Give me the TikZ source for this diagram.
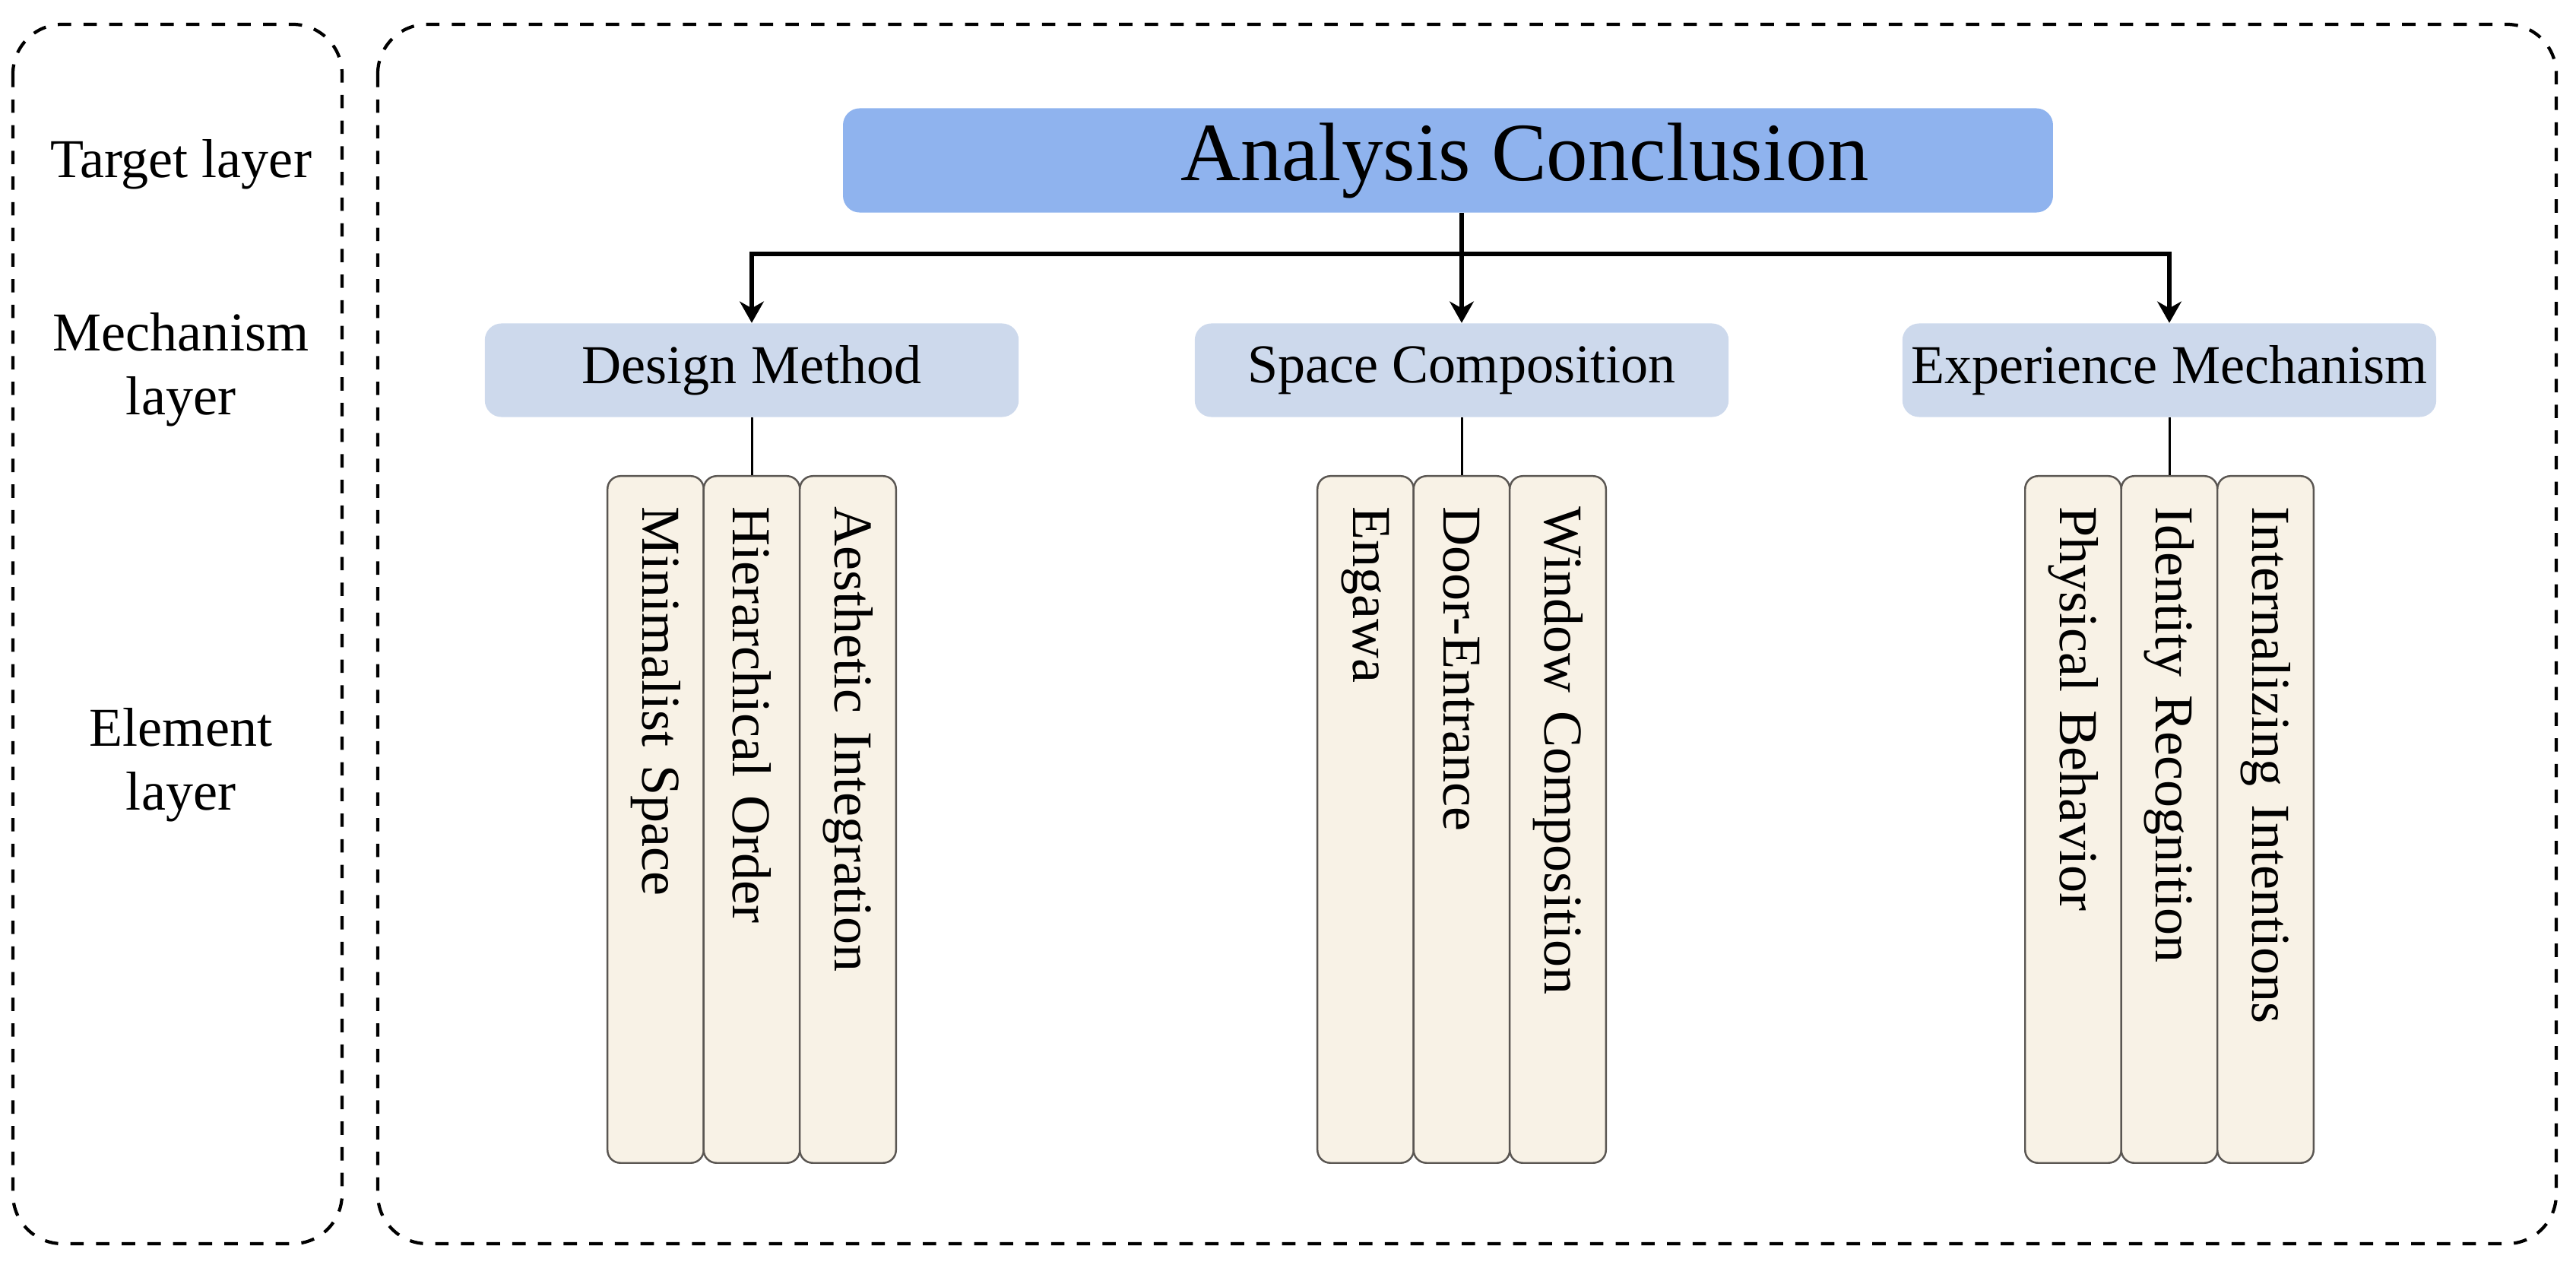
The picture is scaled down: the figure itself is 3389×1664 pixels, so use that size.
\documentclass[tikz,border=0pt]{standalone}
\usepackage{fontspec}
\setmainfont{Liberation Serif}
\usetikzlibrary{arrows.meta}
\definecolor{goalblue}{RGB}{143,179,238}
\definecolor{mechblue}{RGB}{205,217,236}
\definecolor{elemfill}{RGB}{248,242,230}
\definecolor{elemline}{RGB}{90,86,82}

\begin{document}
\begin{tikzpicture}[x=0.01cm, y=-0.01cm, every node/.style={font=\fontsize{20.5}{24}\selectfont},
	frame/.style={draw, line width=1.2pt, dash pattern=on 5pt off 4.6pt, rounded corners=0.65cm},
	goal/.style={fill=goalblue, rounded corners=0.22cm, minimum width=15.91cm, minimum height=1.37cm, font=\fontsize{31}{36}\selectfont},
	mech/.style={fill=mechblue, rounded corners=0.22cm, inner xsep=2pt, minimum width=7.02cm, minimum height=1.23cm},
	elem/.style={draw=elemline, fill=elemfill, line width=0.7pt, rounded corners=0.17cm, rotate=-90, anchor=west, inner xsep=0.4cm, inner ysep=0pt, text width=8.23cm, align=left, minimum height=1.265cm},
	link/.style={line width=1.7pt, -{Stealth[length=8pt, width=9pt, inset=2.5pt]}},
	stem/.style={line width=0.85pt}]
	\useasboundingbox (0,0) rectangle (3389,1664);
	\draw[frame] (17,32) rectangle (450,1636);
	\draw[frame] (497,32) rectangle (3363,1636);

	\node[align=center] (tl) at (238,216) {Target layer};
	\node[align=center] (ml) at (238,486) {Mechanism\\layer};
	\node[align=center] (el) at (238,1006) {Element\\layer};

	\node[goal] (goal) at (1905,211) {\hspace*{2.02cm}Analysis Conclusion};
	\coordinate (split) at (1923,334);

	\node[mech] (dm) at (989,487) {Design Method};
	\node[mech] (sc) at (1923,487) {Space Composition};
	\node[mech] (em) at (2854,487) {Experience Mechanism};

	\draw[link] (goal.south -| split) -- (sc.north);
	\draw[link] (split) -| (dm.north);
	\draw[link] (split) -| (em.north);

	\node[elem] (ms) at (862.5,625) {Minimalist Space};
	\node[elem] (ho) at (989,625) {Hierarchical Order};
	\node[elem] (ai) at (1115.5,625) {Aesthetic Integration};

	\node[elem] (en) at (1796.5,625) {Engawa};
	\node[elem] (de) at (1923,625) {Door-Entrance};
	\node[elem] (wc) at (2049.5,625) {Window Composition};

	\node[elem] (pb) at (2727.5,625) {Physical Behavior};
	\node[elem] (ir) at (2854,625) {Identity Recognition};
	\node[elem] (ii) at (2980.5,625) {Internalizing Intentions};

	\draw[stem] (dm.south) -- (ho.west);
	\draw[stem] (sc.south) -- (de.west);
	\draw[stem] (em.south) -- (ir.west);
\end{tikzpicture}
\end{document}
